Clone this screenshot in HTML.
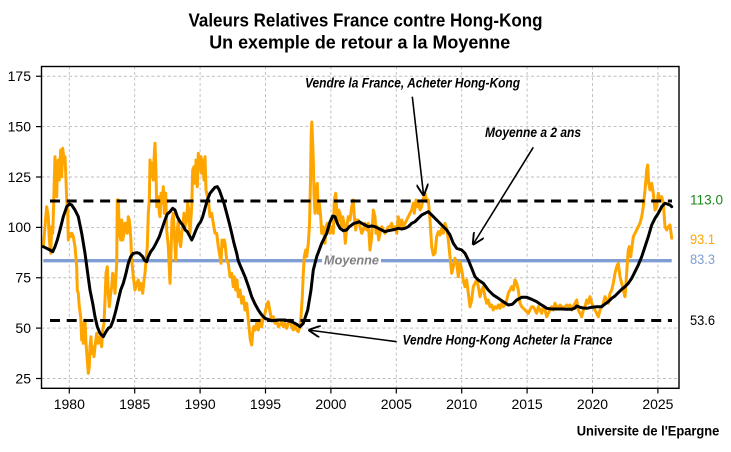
<!DOCTYPE html>
<html><head><meta charset="utf-8"><style>
html,body{margin:0;padding:0;background:#fff;}
svg{display:block;font-family:"Liberation Sans",sans-serif;}
</style></head><body>
<svg width="731" height="452" viewBox="0 0 731 452" xmlns="http://www.w3.org/2000/svg">
<defs>
<marker id="ah" markerUnits="userSpaceOnUse" markerWidth="12" markerHeight="12" refX="10" refY="5" orient="auto" viewBox="0 0 10 10">
<path d="M0,0 L10,5 L0,10" fill="none" stroke="#000" stroke-width="1.6"/>
</marker>
</defs>
<rect width="731" height="452" fill="#fff"/>
<!-- Title -->
<text x="365.5" y="26.7" font-size="18.5" font-weight="bold" text-anchor="middle" textLength="354" lengthAdjust="spacingAndGlyphs">Valeurs Relatives France contre Hong-Kong</text>
<text x="359.7" y="48.3" font-size="18.5" font-weight="bold" text-anchor="middle" textLength="301" lengthAdjust="spacingAndGlyphs">Un exemple de retour a la Moyenne</text>

<!-- Grid -->
<g stroke="#bdbdbd" stroke-width="0.9" stroke-dasharray="3,2.5">
<line x1="41.5" x2="679" y1="76.25" y2="76.25"/>
<line x1="41.5" x2="679" y1="126.6" y2="126.6"/>
<line x1="41.5" x2="679" y1="177" y2="177"/>
<line x1="41.5" x2="679" y1="227.4" y2="227.4"/>
<line x1="41.5" x2="679" y1="277.75" y2="277.75"/>
<line x1="41.5" x2="679" y1="328.1" y2="328.1"/>
<line x1="41.5" x2="679" y1="378.5" y2="378.5"/>
<line y1="66.5" y2="388.3" x1="69.3" x2="69.3"/>
<line y1="66.5" y2="388.3" x1="134.7" x2="134.7"/>
<line y1="66.5" y2="388.3" x1="200.1" x2="200.1"/>
<line y1="66.5" y2="388.3" x1="265.5" x2="265.5"/>
<line y1="66.5" y2="388.3" x1="330.9" x2="330.9"/>
<line y1="66.5" y2="388.3" x1="396.3" x2="396.3"/>
<line y1="66.5" y2="388.3" x1="461.7" x2="461.7"/>
<line y1="66.5" y2="388.3" x1="527.1" x2="527.1"/>
<line y1="66.5" y2="388.3" x1="592.5" x2="592.5"/>
<line y1="66.5" y2="388.3" x1="657.9" x2="657.9"/>
</g>

<!-- Moyenne line -->
<g stroke="#7f9ed3" stroke-width="3.4">
<line x1="43.3" x2="322" y1="260.7" y2="260.7"/>
<line x1="381" x2="671.7" y1="260.7" y2="260.7"/>
</g>
<text x="324" y="264.5" font-size="12.5" font-weight="bold" font-style="italic" fill="#808080" textLength="55" lengthAdjust="spacingAndGlyphs">Moyenne</text>

<!-- Orange series -->
<polyline fill="none" stroke="#FFA500" stroke-width="3" stroke-linejoin="round" stroke-linecap="round" points="43.3,246.7 45,226.7 46.7,206.7 48.3,216.7 49.3,240 50.7,253.3 51.7,226.7 52.7,233.3 53.3,216.7 55,156.7 56,186.7 56.7,196.7 57.3,170 58.3,160 59.3,180 60.7,150 61.7,176.7 62.7,148.3 63.3,153.3 64.3,163.3 65,156.7 66,180 66.7,200 67.7,213.3 68.3,240 69.3,233.3 70.7,236.7 71.7,233.3 73.3,236.7 75,246.7 76.7,266.7 77.3,290 78.3,293.3 79.3,306.7 80.7,316.7 81.7,340 82.7,323.3 83.3,343.3 84.3,340 85,320 86,343.3 87.3,360 88.3,373.3 89.3,366.7 90,346.7 91,336.7 91.7,353.3 92.7,346.7 94,356.7 95,346.7 96.7,333.3 98.3,343.3 100,336.7 101.7,346.7 102.7,330 104,323.3 105,300 106,273.3 107.3,266.7 108.3,293.3 109.3,306.7 110.7,293.3 111.7,286.7 112.7,273.3 114,280 115,293.3 116.7,263.3 117.3,200 118.3,200 119.3,233.3 120.7,240 121.7,220 122.7,240 124,233.3 125,223.3 126,223.3 127.3,233.3 128.3,216.7 129.3,220 130.7,236.7 131.7,260 133.3,276.7 135,290 136.7,283.3 138.3,280 139.3,290 140.7,283.3 141.7,286.7 142.7,293.3 144,280 145,273.3 146,260 147.3,246.7 148.3,213.3 149.3,200 150,160 151,176.7 152,163.3 153.3,180 154,160 155,143.3 156,173.3 156.7,206.7 158.3,196.7 159.3,213.3 160,216.7 161,193.3 162.3,203.3 163.3,186.7 164.3,213.3 165.7,193.3 166.7,230 168.3,246.7 170,283.3 171,253.3 172,220 173.3,213.3 174.3,233.3 175.7,260 176.7,236.7 178.3,220 179.3,240 180.7,246.7 181.7,233.3 182.7,226.7 184,213.3 185,226.7 186.7,220 187.7,203.3 188.7,210 190,233.3 191.7,206.7 192.7,170 194,166.7 195,183.3 196,160 197.3,186.7 198.3,153.3 199.3,163.3 200,170 201,156.7 201.7,173.3 202.7,160 204,180 205,156.7 206,190 206.7,193.3 208.3,200 210,216.7 211.7,213.3 213.3,223.3 215,233.3 216.7,233.3 218.3,246.7 220,256.7 221,263.3 222,240 223.3,246.7 224.3,240 225,243.3 226.7,260 228.3,263.3 230,276.7 231.7,273.3 233.3,286.7 234.3,276.7 235.7,290 237,280 238.3,296.7 240,290 241.7,303.3 243.3,296.7 245,310 246.7,303.3 248.3,320 249.3,330 250.3,340 251.7,345 252.7,333.3 253.7,326.7 255,330 256.7,323.3 258.3,330 260,320 261.7,326.7 263.3,316.7 265,313.3 266.7,305 268.3,301.7 270,311.7 271.7,320 273.3,316.7 275,323.3 276.7,320 278.3,326.7 280,325 281.7,321.7 283.3,326.7 285,323.3 286.7,328.3 288.3,323.3 290,320 291.7,326.7 293.3,330 295,323.3 296.7,330 298.3,331.7 300,326.7 301,316.7 302.3,296.7 303.3,273.3 304.3,256.7 305.7,250 306.7,256.7 308.3,243.3 309.5,225 310.5,180 311.2,135 311.8,122 312.7,143.3 313.3,160 314,193.3 315,213.3 316,200 316.7,186.7 317.3,183.3 318.3,213.3 319.3,203.3 320.7,216.7 321.7,233.3 322.7,226.7 324,233.3 325,243.3 326,226.7 327.3,223.3 328.3,230 330,233.3 331.7,226.7 333.3,233.3 334.3,200 335.7,193.3 336.7,210 337.7,223.3 338.7,210 340,213.3 341.7,226.7 342.7,216.7 344,223.3 345.3,243.3 346.7,226.7 348.3,216.7 350,220 351.7,206.7 353.3,200 354.3,216.7 355.7,230 356.7,220 358.3,220 360,226.7 361.7,233.3 363.3,230 365,223.3 366.7,230 368.3,223.3 370,250 371.7,236.7 373.3,210 375,216.7 376,233.3 377.3,226.7 378.7,240 380,233.3 381.7,226.7 383.3,230 385,233.3 386.7,230 388.3,226.7 390,226.7 391.7,223.3 393.3,230 395,226.7 396.7,233.3 398.3,216.7 400,226.7 401.7,220 403.3,226.7 405,223.3 406.7,220 408.3,216.7 410,213.3 411.7,210 413.3,203.3 414.3,213.3 416,200 417.3,206.7 418.7,203.3 420,210 421.7,206.7 422.7,200 424,196.7 425,193.3 426.7,201.7 428.3,200 430,220 431.7,246.7 433.3,255 435,253.3 436.7,236.7 438.3,231.7 440,235 441.7,228.3 443.3,233.3 445,223.3 446.7,228.3 448.3,240 450,256.7 451.7,273.3 453.3,266.7 455,258.3 456.7,263.3 458.3,276.7 460,261.7 461.7,270 463.3,280 465,286.7 466.7,280 468.3,293.3 470,306.7 471.7,300 473.3,286.7 475,283.3 476.7,280 478.3,286.7 480,296.7 481.7,290 483.3,286.7 485,296.7 486.7,303.3 488.3,300 490,306.7 491.7,305 493.3,310 495,306.7 496.7,308.3 498.3,305 500,308.3 501.7,303.3 503.3,306.7 505,305 506.7,300 508.3,293.3 510,290 511.7,286.7 513.3,290 515,280 516.7,283.3 518.3,290 520,303.3 521.7,306.7 525,310 528.3,313.3 531.7,306.7 533.3,306.7 535,310 536.7,313.3 538.3,306.7 540,310 541.7,313.3 543.3,306.7 545,310 546.7,316.7 548.3,313.3 550,310 551.7,306.7 553.3,310 555,303.3 556.7,306.7 558.3,308.3 560,305 561.7,306.7 563.3,308.3 565,306.7 566.7,305 568.3,306.7 570,305 571.7,310 573.3,306.7 575,303.3 576.7,300 578.3,310 580,313.3 581.7,316.7 583.3,310 585,306.7 586.7,300 588.3,303.3 590,296.7 591.7,303.3 593.3,306.7 595,310 596.7,313.3 598.3,316.7 600,310 601.7,306.7 603.3,303.3 605,296.7 606.7,300 608.3,303.3 610,293.3 611.7,290 613.3,283.3 615,273.3 616.7,266.7 618.3,263.3 620,276.7 621.7,283.3 623.3,290 625,296.7 626,283.3 627.3,263.3 628.3,250 629.3,246.7 630.7,256.7 632,246.7 633.3,236.7 635,233.3 636.7,230 638.3,226.7 640,223.3 641.7,216.7 643.3,206.7 645,190 646.7,170 647.7,165 648.7,183.3 650,190 651.7,183.3 653.3,193.3 655,210 656.7,206.7 658.3,193.3 660,200 661.7,196.7 663.3,203.3 665,226.7 666.7,230 668.3,226.7 670,225 671.7,238.3"/>

<!-- Dashed bands -->
<g stroke="#000" stroke-width="3" stroke-dasharray="10,6.7">
<line x1="50" x2="672" y1="201" y2="201"/>
<line x1="50" x2="672" y1="320.5" y2="320.5"/>
</g>

<!-- Black moving average -->
<polyline fill="none" stroke="#000" stroke-width="3" stroke-linejoin="round" stroke-linecap="round" points="43.3,246.7 46.7,248.3 50,250 52.7,251.7 55,246.7 57.3,240 60,230 63.3,216.7 66.7,206.7 69.3,204 71.7,205 75,210 78.3,216.7 81.7,233.3 85,253.3 87.7,273.3 90,290 92.7,303.3 95,316.7 97.3,326.7 100,333.3 103.3,336.7 106,331.7 108.3,328.3 110.7,326.7 113.3,320 116,310 118.3,300 120.7,290 123.3,283.3 126,273.3 128.3,263.3 130.7,256.7 133.3,253.3 136.7,252.7 139.3,253.3 142.7,256.7 144.3,260 146.7,261.7 148.3,256.7 150.7,251.7 153.3,248.3 156,243.3 159.3,236.7 162.7,226.7 165,220 167.3,214 170,211.7 172.7,208.3 175,210 177.3,216.7 180,221.7 182.7,225 185.3,230 187.3,231.7 190,236.7 191.7,240 193.3,236.7 196,230 198.3,225 200.7,221.7 202.7,216.7 205,208.3 207.3,200 210,193.3 212.7,190 215,187.3 217.3,186.7 219.3,190 221.7,196.7 224,203.3 226.7,213.3 229.3,223.3 231.7,233.3 234,243.3 236.7,253.3 238.3,261 241.7,269 245,276.7 248.3,286 251.7,296.7 255,304 258.3,310 261.7,315 265,318.3 271.7,320.7 278.3,320 285,320 291.7,321.7 296.7,324.3 300,326.7 303.3,323.3 307.7,310 311,290 313.3,270 316.7,256.7 321.7,243.3 326.7,233.3 330,222 332.7,216 335,216.7 337.3,223.3 340,228.3 343.3,230.7 346.7,230 349.3,226.7 351.7,225 354,223.3 356.7,222.7 359.3,221.7 361.7,223.3 365,225 368.3,226.7 371.7,226 375,226.7 378.3,228.3 381.7,230 385,231.7 388.3,230.7 391.7,230 395,229.3 398.3,228.3 401.7,229 405,228.3 408.3,226.7 411.7,223.3 415,221.7 418.3,218.3 421.7,215 425,213.3 428.3,211.7 431.7,215 436.7,220 441.7,225 446.7,230 450,235 453.3,243.3 456.7,248.3 461.7,250 465,253.3 468.3,260 471.7,268.3 475,276.7 478.3,280 483.3,283.3 488.3,290 493.3,295 498.3,298.3 503.3,301.7 508.3,305 512.3,304.3 516.7,300 521.7,297.3 526.7,297.3 531.7,299.3 536.7,301.7 540,304 543.3,306 546.7,308.3 551.7,309 556.7,309 561.7,309 566.7,309.3 571.7,309.3 575,308 576.7,306 580,307.3 583.3,308 586.7,308.3 591.7,307.3 596.7,306.7 601.7,306.7 605,304 608.3,301.7 611.7,298.3 615,296 618.3,292.7 621.7,289.3 625,286.7 628.3,283.3 631.7,278.3 635,271.7 638.3,265 641.7,256.7 645,246.7 648.3,236.7 651.7,225 655,218.3 658.3,213.3 661.7,206.7 665,203.3 667.3,204 670,205 671.7,206.7"/>

<!-- Frame -->
<rect x="41.5" y="66.5" width="637.5" height="321.8" fill="none" stroke="#000" stroke-width="1.4"/>

<!-- Ticks -->
<g stroke="#000" stroke-width="1.2">
<line x1="36" x2="41.5" y1="76.25" y2="76.25"/>
<line x1="36" x2="41.5" y1="126.6" y2="126.6"/>
<line x1="36" x2="41.5" y1="177" y2="177"/>
<line x1="36" x2="41.5" y1="227.4" y2="227.4"/>
<line x1="36" x2="41.5" y1="277.75" y2="277.75"/>
<line x1="36" x2="41.5" y1="328.1" y2="328.1"/>
<line x1="36" x2="41.5" y1="378.5" y2="378.5"/>
<line y1="388.3" y2="393.5" x1="69.3" x2="69.3"/>
<line y1="388.3" y2="393.5" x1="134.7" x2="134.7"/>
<line y1="388.3" y2="393.5" x1="200.1" x2="200.1"/>
<line y1="388.3" y2="393.5" x1="265.5" x2="265.5"/>
<line y1="388.3" y2="393.5" x1="330.9" x2="330.9"/>
<line y1="388.3" y2="393.5" x1="396.3" x2="396.3"/>
<line y1="388.3" y2="393.5" x1="461.7" x2="461.7"/>
<line y1="388.3" y2="393.5" x1="527.1" x2="527.1"/>
<line y1="388.3" y2="393.5" x1="592.5" x2="592.5"/>
<line y1="388.3" y2="393.5" x1="657.9" x2="657.9"/>
</g>
<g font-size="14" fill="#000" text-anchor="end">
<text x="31" y="81">175</text>
<text x="31" y="131.4">150</text>
<text x="31" y="181.8">125</text>
<text x="31" y="232.2">100</text>
<text x="31" y="282.5">75</text>
<text x="31" y="332.9">50</text>
<text x="31" y="383.3">25</text>
</g>
<g font-size="14" fill="#000" text-anchor="middle">
<text x="69.3" y="409">1980</text>
<text x="134.7" y="409">1985</text>
<text x="200.1" y="409">1990</text>
<text x="265.5" y="409">1995</text>
<text x="330.9" y="409">2000</text>
<text x="396.3" y="409">2005</text>
<text x="461.7" y="409">2010</text>
<text x="527.1" y="409">2015</text>
<text x="592.5" y="409">2020</text>
<text x="657.9" y="409">2025</text>
</g>

<!-- Right labels -->
<g font-size="14">
<text x="690" y="204.3" fill="#1a8a1a" textLength="33" lengthAdjust="spacingAndGlyphs">113.0</text>
<text x="690" y="244" fill="#FFA500" textLength="25" lengthAdjust="spacingAndGlyphs">93.1</text>
<text x="690" y="264" fill="#7f9ed3" textLength="25" lengthAdjust="spacingAndGlyphs">83.3</text>
<text x="690" y="325" fill="#000" textLength="25" lengthAdjust="spacingAndGlyphs">53.6</text>
</g>

<!-- Annotations -->
<g font-size="14" font-weight="bold" font-style="italic" fill="#000">
<text x="305" y="87.3" textLength="215" lengthAdjust="spacingAndGlyphs">Vendre la France, Acheter Hong-Kong</text>
<text x="485" y="137" textLength="96" lengthAdjust="spacingAndGlyphs">Moyenne a 2 ans</text>
<text x="402.5" y="344.5" textLength="210" lengthAdjust="spacingAndGlyphs">Vendre Hong-Kong Acheter la France</text>
</g>
<g stroke="#000" stroke-width="1.6" fill="none">
<line x1="412.3" y1="96.7" x2="423.7" y2="196" marker-end="url(#ah)"/>
<line x1="533.3" y1="147.3" x2="472.7" y2="245" marker-end="url(#ah)"/>
<line x1="396.7" y1="341.7" x2="308.3" y2="330" marker-end="url(#ah)"/>
</g>

<text x="719.3" y="435.5" font-size="14" font-weight="bold" text-anchor="end" textLength="142.6" lengthAdjust="spacingAndGlyphs">Universite de l'Epargne</text>
</svg>
</body></html>
